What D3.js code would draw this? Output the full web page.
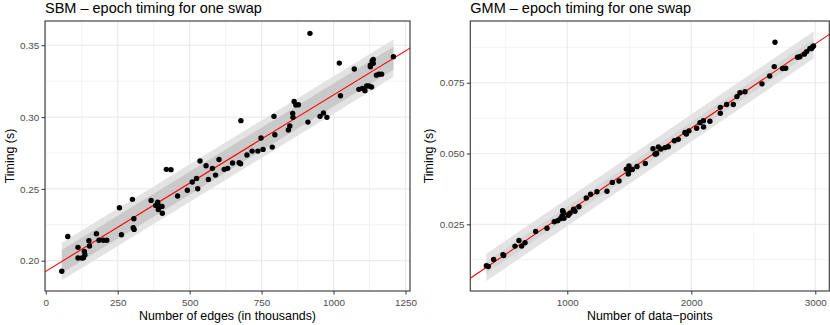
<!DOCTYPE html>
<html lang="en">
<head>
<meta charset="UTF-8" />
<title>Epoch timing for one swap</title>
<script src="https://d3js.org/d3.v7.min.js"></script>
<style>
  body { margin: 0; background: #fff; }
  svg text { font-family: "Liberation Sans", Arial, sans-serif; }
  .tick text { font-size: 9.9px; fill: #4d4d4d; }
  .tick line { stroke: #333; }
  .axis-title { font-size: 12.4px; fill: #000; }
  .plot-title { font-size: 14.5px; fill: #000; }
</style>
</head>
<body>
<svg id="chart" width="830" height="325"></svg>
<script>
// SBM panel: number of edges (thousands) vs timing (s)
const sbmEdges = [
  55.6, 76.4, 112, 112, 126, 131, 134, 136, 150, 152, 176, 185, 200, 212,
  256, 263, 301, 306, 304, 307, 366, 382, 389, 391, 395, 404, 405, 419, 435,
  458, 492, 509, 524, 528, 536, 557, 565, 579, 590, 602, 620, 632, 649, 672,
  677, 678, 699, 717, 737, 748, 755, 787, 793, 796, 843, 848, 858, 859, 863,
  869, 878, 911, 918, 953, 965, 977, 1020, 1024, 1072, 1088, 1100, 1109,
  1115, 1123, 1132, 1128, 1128, 1134, 1138, 1138, 1149, 1158, 1167, 1208
];
const sbmTiming = [
  0.1926, 0.2169, 0.2093, 0.2019, 0.2019, 0.2021, 0.2065, 0.2042, 0.2139, 0.2102, 0.2188, 0.2142, 0.2142, 0.2142,
  0.2369, 0.2181, 0.2427, 0.2292, 0.2230, 0.2218, 0.2420, 0.2385, 0.2408, 0.2357, 0.2381, 0.2378, 0.2330, 0.2636, 0.2634,
  0.2450, 0.2490, 0.2548, 0.2573, 0.2501, 0.2694, 0.2661, 0.2566, 0.2643, 0.2596, 0.2705, 0.2636, 0.2643, 0.2680, 0.2682,
  0.2675, 0.2975, 0.2736, 0.2763, 0.2763, 0.2854, 0.2775, 0.2791, 0.3005, 0.2877, 0.2910, 0.2938, 0.3026, 0.2998, 0.3109,
  0.3084, 0.3086, 0.2965, 0.3583, 0.3005, 0.3028, 0.2998, 0.3376, 0.3149, 0.3335, 0.3193, 0.3200, 0.3184,
  0.3216, 0.3216, 0.3209, 0.3362, 0.3350, 0.3390, 0.3401, 0.3374, 0.3292, 0.3299, 0.3299, 0.3420
];
const sbmFit = [0.1926, 0.0001228]; // intercept, slope
const sbmBands = [0.0131, 0.0080];  // outer, inner half-widths
const sbmXTicks = [0, 250, 500, 750, 1000, 1250];
const sbmYTicks = [0.20, 0.25, 0.30, 0.35];

// GMM panel: number of data-points vs timing (s)
const gmmPoints = [
  347, 363, 406, 481, 487, 578, 610, 632, 659, 745, 836, 895, 922, 944, 957,
  965, 970, 962, 973, 1008, 1022, 1051, 1062, 1094, 1153, 1188, 1239, 1320,
  1363, 1417, 1476, 1492, 1497, 1505, 1524, 1562, 1629, 1691, 1707, 1715,
  1720, 1734, 1755, 1788, 1815, 1863, 1895, 1949, 1960, 1981, 2043, 2070,
  2097, 2099, 2150, 2234, 2234, 2285, 2339, 2368, 2392, 2433, 2570, 2632,
  2669, 2675, 2736, 2761, 2857, 2876, 2911, 2930, 2957, 2970, 2978, 2986
];
const gmmTiming = [
  0.0104, 0.0101, 0.0126, 0.0143, 0.0140, 0.0173, 0.0193, 0.0173, 0.0185, 0.0225, 0.0236, 0.0259, 0.0263, 0.0270, 0.0279,
  0.0295, 0.0289, 0.0298, 0.0271, 0.0282, 0.0289, 0.0303, 0.0296, 0.0312, 0.0343, 0.0356, 0.0365, 0.0367,
  0.0398, 0.0403, 0.0445, 0.0428, 0.0456, 0.0442, 0.0444, 0.0454, 0.0465, 0.0517, 0.0498, 0.0498,
  0.0501, 0.0523, 0.0516, 0.0521, 0.0524, 0.0545, 0.0550, 0.0574, 0.0569, 0.0580, 0.0589, 0.0609,
  0.0616, 0.0594, 0.0614, 0.0663, 0.0642, 0.0673, 0.0673, 0.0701, 0.0715, 0.0718, 0.0746, 0.0774,
  0.0807, 0.0893, 0.0800, 0.0801, 0.0840, 0.0842, 0.0851, 0.0860, 0.0871, 0.0871, 0.0877, 0.0880
];
const gmmFit = [-0.00055, 0.00002976];
const gmmBands = [0.0048, 0.0021];
const gmmXTicks = [1000, 2000, 3000];
const gmmYTicks = [0.025, 0.050, 0.075];

const svg = d3.select("#chart");

function drawPanel(p) {
  const x = d3.scaleLinear().domain(p.xDomain).range([p.left, p.right]);
  const y = d3.scaleLinear().domain(p.yDomain).range([p.bottom, p.top]);
  const g = svg.append("g");

  g.append("clipPath").attr("id", p.id + "-clip")
    .append("rect")
    .attr("x", p.left).attr("y", p.top)
    .attr("width", p.right - p.left).attr("height", p.bottom - p.top);

  const plot = g.append("g").attr("clip-path", `url(#${p.id}-clip)`);

  // minor gridlines halfway between the major ones
  const minor = (ticks, dom) => {
    const step = ticks[1] - ticks[0];
    return d3.range(ticks[0] - step / 2, ticks[ticks.length - 1] + step, step)
      .filter((v) => v > dom[0] && v < dom[1]);
  };
  const gridLines = (vals, vertical, width) => {
    plot.selectAll(null).data(vals).enter().append("line")
      .attr("x1", (d) => (vertical ? x(d) : p.left))
      .attr("x2", (d) => (vertical ? x(d) : p.right))
      .attr("y1", (d) => (vertical ? p.top : y(d)))
      .attr("y2", (d) => (vertical ? p.bottom : y(d)))
      .attr("stroke", "#ebebeb")
      .attr("stroke-width", width);
  };
  gridLines(minor(p.xTicks, p.xDomain), true, 0.6);
  gridLines(minor(p.yTicks, p.yDomain), false, 0.6);
  gridLines(p.xTicks, true, 1.2);
  gridLines(p.yTicks, false, 1.2);

  const fit = (v) => p.fit[0] + p.fit[1] * v;
  const xr = d3.extent(p.xs);

  // prediction bands, wide then narrow
  [[p.bands[0], "#e3e3e3"], [p.bands[1], p.innerColor]].forEach(([w, col]) => {
    plot.append("path")
      .datum(xr)
      .attr("fill", col)
      .attr("d", d3.area()
        .x((d) => x(d))
        .y0((d) => y(fit(d) - w))
        .y1((d) => y(fit(d) + w)));
  });

  plot.append("path")
    .datum(p.xDomain)
    .attr("fill", "none")
    .attr("stroke", "#ff0000")
    .attr("stroke-width", 1.1)
    .attr("d", d3.line().x((d) => x(d)).y((d) => y(fit(d))));

  plot.selectAll("circle").data(p.xs).enter().append("circle")
    .attr("cx", (d) => x(d))
    .attr("cy", (d, i) => y(p.ys[i]))
    .attr("r", 2.7)
    .attr("fill", "#000");

  g.append("rect")
    .attr("x", p.left).attr("y", p.top)
    .attr("width", p.right - p.left).attr("height", p.bottom - p.top)
    .attr("fill", "none").attr("stroke", "#333").attr("stroke-width", 1.1);

  const xAxis = g.append("g")
    .attr("transform", `translate(0,${p.bottom})`)
    .call(d3.axisBottom(x).tickValues(p.xTicks).tickFormat(d3.format("d"))
      .tickSize(3.5).tickPadding(4.5));
  const yAxis = g.append("g")
    .attr("transform", `translate(${p.left},0)`)
    .call(d3.axisLeft(y).tickValues(p.yTicks).tickFormat(d3.format(p.yFormat))
      .tickSize(3.5).tickPadding(2.3));
  [xAxis, yAxis].forEach((a) => {
    a.select(".domain").remove();
    a.attr("font-family", null).attr("font-size", null);
  });

  g.append("text").attr("class", "plot-title")
    .attr("x", p.left).attr("y", 12.5)
    .text(p.title);
  g.append("text").attr("class", "axis-title")
    .attr("x", (p.left + p.right) / 2).attr("y", 319.5)
    .attr("text-anchor", "middle")
    .text(p.xLabel);
  g.append("text").attr("class", "axis-title")
    .attr("transform", `translate(${p.yLabelX},${(p.top + p.bottom) / 2}) rotate(-90)`)
    .attr("text-anchor", "middle")
    .text("Timing (s)");
}

drawPanel({
  id: "sbm", title: "SBM \u2013 epoch timing for one swap",
  xLabel: "Number of edges (in thousands)",
  xs: sbmEdges, ys: sbmTiming, fit: sbmFit, bands: sbmBands, innerColor: "#c9c9c9",
  xTicks: sbmXTicks, yTicks: sbmYTicks, yFormat: ".2f",
  xDomain: [-2.65, 1265.65], yDomain: [0.1789, 0.3669],
  left: 45, right: 410, top: 21, bottom: 291, yLabelX: 14
});

drawPanel({
  id: "gmm", title: "GMM \u2013 epoch timing for one swap",
  xLabel: "Number of data\u2212points",
  xs: gmmPoints, ys: gmmTiming, fit: gmmFit, bands: gmmBands, innerColor: "#d6d6d6",
  xTicks: gmmXTicks, yTicks: gmmYTicks, yFormat: ".3f",
  xDomain: [217.7, 3112.9], yDomain: [0.00145, 0.0968],
  left: 470.3, right: 829.3, top: 21, bottom: 291, yLabelX: 432.5
});
</script>
</body>
</html>
